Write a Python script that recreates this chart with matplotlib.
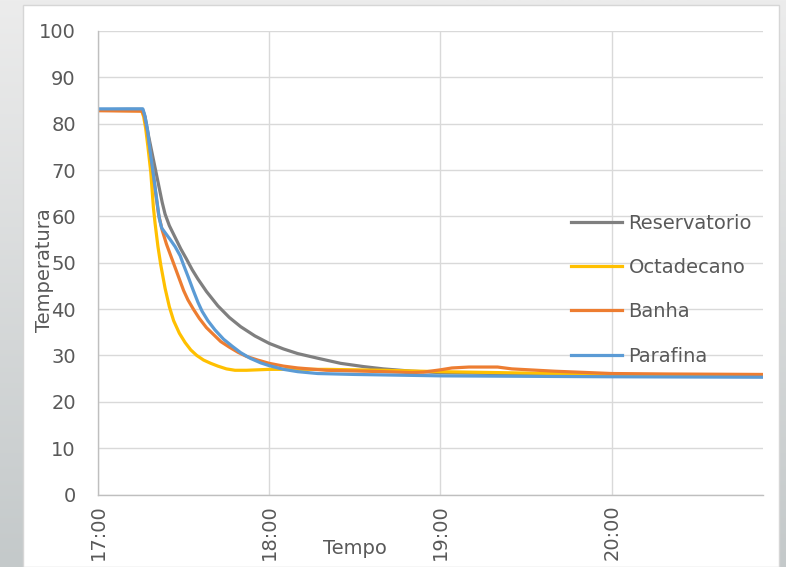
import numpy as np
import matplotlib.pyplot as plt
from matplotlib.patches import Rectangle
from matplotlib.colors import LinearSegmentedColormap

# time in minutes after 17:00
t_res = [0, 10, 15.6, 16.5, 17.5, 18.5, 19.5, 20.5, 21.5, 22.5, 23.5, 25, 27, 29, 31, 33, 35, 38, 42, 46, 50,
         55, 60, 65, 70, 77, 85, 93, 100, 110, 120, 140, 160, 190, 233]
v_res = [83.0, 83.1, 83.1, 81.5, 78, 75, 72, 69, 66, 63, 60.5, 58, 55.5, 53, 50.8, 48.5, 46.5, 43.8, 40.7, 38.2, 36.2,
         34.2, 32.6, 31.4, 30.4, 29.4, 28.3, 27.6, 27.1, 26.6, 26.3, 26.1, 25.9, 25.8, 25.6]

t_oct = [0, 15.3, 16, 16.7, 17.5, 18.5, 19.4, 20, 21, 22, 23.5, 25, 26.5, 28.5, 30.5, 32.5, 34.6, 37, 39.5, 42,
         45, 48, 52, 56, 60, 80, 100, 120, 140, 160, 180, 233]
v_oct = [82.9, 82.8, 81.5, 79, 75, 69.5, 62, 58.5, 53.5, 49.5, 44.5, 40.5, 37.5, 34.8, 32.8, 31.2, 30, 29, 28.3, 27.7,
         27.1, 26.8, 26.8, 26.9, 27.0, 27.0, 26.8, 26.5, 26.3, 26.1, 25.9, 25.7]

t_ban = [0, 15.5, 16.3, 17.4, 18.3, 19.2, 20.2, 21.2, 22.5, 24, 25.5, 27, 28.5, 30, 31.5, 33.4, 35.5, 38, 40, 43,
         46, 49, 52, 56, 60, 65, 70, 80, 100, 110, 114, 120, 124, 130, 140, 145, 160, 180, 200, 233]
v_ban = [82.8, 82.7, 81.5, 78, 74, 70, 65, 60.5, 57, 54, 51.5, 49, 46.5, 44, 42, 40, 38, 36, 34.8, 33,
         31.8, 30.7, 29.8, 29.0, 28.3, 27.7, 27.3, 26.8, 26.5, 26.3, 26.4, 26.9, 27.3, 27.5, 27.5, 27.1, 26.6, 26.1, 26.0, 25.9]

t_par = [0, 15.7, 16.3, 17.4, 18.3, 19.2, 20.5, 21.5, 22.3, 23.5, 25.3, 27, 28.8, 30, 31.7, 33.4, 35, 36.5, 38.5,
         41, 44, 47, 50, 53.3, 57, 60, 65, 70, 77, 90, 100, 120, 150, 180, 233]
v_par = [83.2, 83.2, 82, 78.5, 74, 70, 64, 59.5, 57.5, 56.5, 55, 53.5, 51.5, 49.5, 46.8, 44, 41.5, 39.5, 37.5,
         35.5, 33.5, 32, 30.6, 29.4, 28.4, 27.8, 27.0, 26.5, 26.1, 25.9, 25.8, 25.6, 25.5, 25.4, 25.3]

xticks = [0, 60, 120, 180]
xlabels = ["17:00", "18:00", "19:00", "20:00"]

plt.rcParams['font.family'] = 'DejaVu Sans'
txt = '#595959'

fig = plt.figure(figsize=(7.86, 5.67), dpi=100)

# gray gradient background with white panel
bg = fig.add_axes([0, 0, 1, 1], zorder=-10)
grad = np.linspace(0, 1, 256).reshape(-1, 1)
bg.imshow(grad, aspect='auto', cmap=LinearSegmentedColormap.from_list('g', ['#ececec', '#c4c9ca']),
          extent=[0, 1, 0, 1], origin='upper')
bg.add_patch(Rectangle((23 / 786, 0), (779 - 23) / 786, 1 - 5 / 567, facecolor='white', edgecolor='#d6d6d6', lw=1))
bg.set_xlim(0, 1)
bg.set_ylim(0, 1)
bg.axis('off')

ax = fig.add_axes([98 / 786, 1 - 494.5 / 567, (763 - 98) / 786, (494.5 - 31) / 567])
ax.set_facecolor('none')

ax.plot(t_res, v_res, color='#7f7f7f', lw=2.3, label='Reservatorio')
ax.plot(t_oct, v_oct, color='#ffc000', lw=2.3, label='Octadecano')
ax.plot(t_ban, v_ban, color='#ed7d31', lw=2.3, label='Banha')
ax.plot(t_par, v_par, color='#5b9bd5', lw=2.3, label='Parafina')

ax.set_xlim(0, 233)
ax.set_ylim(0, 100)
ax.set_yticks(range(0, 101, 10))
ax.set_xticks(xticks)
ax.set_xticklabels(xlabels, rotation=90, va='top', ha='center')
ax.grid(True, color='#d9d9d9', lw=1)
ax.set_axisbelow(True)
for s in ['top', 'right']:
    ax.spines[s].set_visible(False)
for s in ['left', 'bottom']:
    ax.spines[s].set_color('#bfbfbf')
    ax.spines[s].set_linewidth(1)
ax.tick_params(axis='y', length=0, pad=16, labelsize=14, labelcolor=txt)
ax.tick_params(axis='x', length=0, pad=7, labelsize=14, labelcolor=txt)

ax.set_xlabel('Tempo', fontsize=14, color=txt, va='center')
ax.xaxis.set_label_coords(0.386, -0.116)
ax.set_ylabel('Temperatura', fontsize=14, color=txt, va='center')
ax.yaxis.set_label_coords(-0.08, 0.485)

leg = ax.legend(loc='center left', bbox_to_anchor=(0.685, 0.442), frameon=False, fontsize=14,
                handlelength=2.6, handletextpad=0.36, labelspacing=1.3)
for t in leg.get_texts():
    t.set_color(txt)

fig.savefig('out.png', dpi=100)
